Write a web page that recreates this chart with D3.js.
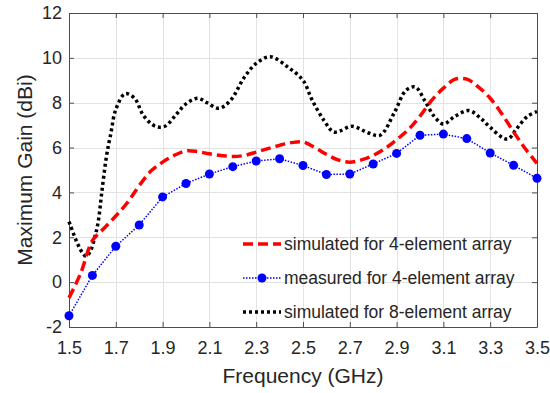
<!DOCTYPE html>
<html lang="en">
<head>
  <meta charset="UTF-8">
  <title>Maximum Gain vs Frequency</title>
  <script src="https://d3js.org/d3.v7.min.js"></script>
  <style>
    body { margin: 0; background: #fff; }
    svg { display: block; }
    text { font-family: "Liberation Sans", Arial, sans-serif; fill: #262626; }
  </style>
</head>
<body>
  <svg id="chart"></svg>

  <script>
    // data
    const xTicks = [1.5, 1.7, 1.9, 2.1, 2.3, 2.5, 2.7, 2.9, 3.1, 3.3, 3.5];
    const yTicks = [-2, 0, 2, 4, 6, 8, 10, 12];

    const simFreq4 = [1.5, 1.55, 1.6, 1.65, 1.7, 1.75, 1.8, 1.85, 1.9, 1.95, 2.0, 2.05, 2.1, 2.15, 2.2, 2.25,
      2.3, 2.35, 2.4, 2.45, 2.5, 2.55, 2.6, 2.65, 2.7, 2.75, 2.8, 2.85, 2.9, 2.95, 3.0, 3.05, 3.1, 3.15,
      3.2, 3.25, 3.3, 3.35, 3.4, 3.45, 3.5];
    const simGain4 = [-0.7, 0.4, 1.85, 2.4, 2.95, 3.55, 4.3, 4.95, 5.35, 5.65, 5.85, 5.82, 5.72, 5.65, 5.6, 5.65,
      5.8, 5.95, 6.1, 6.22, 6.25, 6.0, 5.7, 5.45, 5.35, 5.45, 5.65, 5.95, 6.35, 6.8, 7.4, 8.1, 8.65, 9.05,
      9.05, 8.7, 8.2, 7.5, 6.7, 5.95, 5.3];

    const measFreq4 = [1.5, 1.6, 1.7, 1.8, 1.9, 2.0, 2.1, 2.2, 2.3, 2.4, 2.5, 2.6, 2.7, 2.8, 2.9, 3.0, 3.1,
      3.2, 3.3, 3.4, 3.5];
    const measGain4 = [-1.5, 0.3, 1.6, 2.55, 3.8, 4.4, 4.82, 5.15, 5.4, 5.5, 5.2, 4.8, 4.82, 5.27, 5.74, 6.55, 6.6,
      6.4, 5.76, 5.21, 4.63];

    const simFreq8 = [1.5, 1.535, 1.555, 1.573, 1.59, 1.61, 1.625, 1.64, 1.66, 1.68, 1.70, 1.74, 1.78, 1.82, 1.87,
      1.91, 1.96, 2.0, 2.05, 2.09, 2.14, 2.19, 2.25, 2.30, 2.36, 2.44, 2.5, 2.54, 2.59, 2.63, 2.66, 2.71,
      2.78, 2.83, 2.89, 2.94, 2.98, 3.02, 3.06, 3.1, 3.15, 3.21, 3.26, 3.3, 3.36, 3.38, 3.41, 3.46, 3.5];
    const simGain8 = [2.7, 1.75, 1.35, 1.15, 1.35, 2.0, 2.7, 4.0, 5.6, 6.7, 7.7, 8.4, 8.2, 7.4, 6.95,
      6.95, 7.5, 7.95, 8.2, 8.0, 7.75, 8.1, 9.15, 9.75, 10.05, 9.55, 9.0, 8.1, 7.2, 6.7, 6.75, 6.95,
      6.65, 6.55, 7.55, 8.55, 8.7, 8.1, 7.4, 7.05, 7.4, 7.65, 7.3, 6.9, 6.4, 6.4, 6.8, 7.4, 7.6];

    const seriesNames = ["simulated for 4-element array", "measured for 4-element array", "simulated for 8-element array"];

    const width = 550, height = 393;
    const margin = { top: 13, right: 13, bottom: 66, left: 69 };
    const svg = d3.select("#chart").attr("width", width).attr("height", height);

    const x = d3.scaleLinear().domain([1.5, 3.5]).range([margin.left, width - margin.right]);
    const y = d3.scaleLinear().domain([-2, 12]).range([height - margin.bottom, margin.top]);

    // grid
    const grid = svg.append("g").attr("stroke", "#e3e3e3").attr("stroke-width", 1);
    grid.selectAll(".gx").data(xTicks.slice(1, -1)).enter().append("line")
      .attr("x1", d => Math.round(x(d)) + 0.5).attr("x2", d => Math.round(x(d)) + 0.5)
      .attr("y1", y(12)).attr("y2", y(-2));
    grid.selectAll(".gy").data(yTicks.slice(1, -1)).enter().append("line")
      .attr("y1", d => Math.round(y(d)) + 0.5).attr("y2", d => Math.round(y(d)) + 0.5)
      .attr("x1", x(1.5)).attr("x2", x(3.5));

    // axes (MATLAB style: ticks inside, box on)
    const tickLen = 5;
    const xAxis = d3.axisBottom(x).tickValues(xTicks).tickFormat(d3.format(".1f")).tickSizeInner(-tickLen).tickSizeOuter(0).tickPadding(14);
    const yAxis = d3.axisLeft(y).tickValues(yTicks).tickFormat(d => String(d)).tickSizeInner(-tickLen).tickSizeOuter(0).tickPadding(7);
    const xTop = d3.axisTop(x).tickValues(xTicks).tickFormat("").tickSizeInner(-tickLen).tickSizeOuter(0);
    const yRight = d3.axisRight(y).tickValues(yTicks).tickFormat("").tickSizeInner(-tickLen).tickSizeOuter(0);

    function styleAxis(g) {
      g.selectAll("path, line").attr("stroke", "#4d4d4d");
      g.selectAll("text").attr("fill", "#303030").attr("font-size", 18)
        .attr("font-family", "'Liberation Sans', Arial, sans-serif");
    }

    svg.append("g").attr("transform", `translate(0,${y(-2)})`).call(xAxis).call(styleAxis);
    svg.append("g").attr("transform", `translate(${x(1.5)},0)`).call(yAxis).call(styleAxis);
    svg.append("g").attr("transform", `translate(0,${y(12)})`).call(xTop).call(styleAxis);
    svg.append("g").attr("transform", `translate(${x(3.5)},0)`).call(yRight).call(styleAxis);

    // axis labels
    svg.append("text")
      .attr("x", (x(1.5) + x(3.5)) / 2).attr("y", 383)
      .attr("text-anchor", "middle").attr("font-size", 21)
      .text("Frequency (GHz)");
    svg.append("text")
      .attr("transform", `translate(32,${(y(-2) + y(12)) / 2}) rotate(-90)`)
      .attr("text-anchor", "middle").attr("font-size", 21)
      .text("Maximum Gain (dBi)");

    // lines
    const line = d3.line().x(d => x(d[0])).y(d => y(d[1])).curve(d3.curveCatmullRom.alpha(0.5));
    const plot = svg.append("g");

    plot.append("path")
      .datum(d3.zip(simFreq8, simGain8))
      .attr("fill", "none").attr("stroke", "#000").attr("stroke-width", 3.5)
      .attr("stroke-dasharray", "3,3").attr("d", line);

    plot.append("path")
      .datum(d3.zip(simFreq4, simGain4))
      .attr("fill", "none").attr("stroke", "#ff0000").attr("stroke-width", 3.5)
      .attr("stroke-dasharray", "10,5").attr("d", line);

    const measData = d3.zip(measFreq4, measGain4);
    plot.append("path")
      .datum(measData)
      .attr("fill", "none").attr("stroke", "#0000ff").attr("stroke-width", 1.5)
      .attr("stroke-dasharray", "1.5,1.5")
      .attr("d", d3.line().x(d => x(d[0])).y(d => y(d[1])));
    plot.selectAll(".m").data(measData).enter().append("circle")
      .attr("cx", d => x(d[0])).attr("cy", d => y(d[1])).attr("r", 4.5)
      .attr("fill", "#0000ff");

    // legend
    const legendRows = [
      { name: seriesNames[0], color: "#ff0000", dash: "10,5", width: 3.5, marker: false, y: 244 },
      { name: seriesNames[1], color: "#0000ff", dash: "1.5,1.5", width: 1.5, marker: true, y: 278 },
      { name: seriesNames[2], color: "#000", dash: "3,3", width: 3.5, marker: false, y: 312 }
    ];
    const lx0 = 243, lx1 = 281;
    const legend = svg.append("g");
    legendRows.forEach(r => {
      legend.append("line").attr("x1", lx0).attr("x2", lx1).attr("y1", r.y).attr("y2", r.y)
        .attr("stroke", r.color).attr("stroke-width", r.width).attr("stroke-dasharray", r.dash);
      if (r.marker) {
        legend.append("circle").attr("cx", (lx0 + lx1) / 2).attr("cy", r.y).attr("r", 4.5).attr("fill", r.color);
      }
      legend.append("text").attr("x", 284).attr("y", r.y + 6).attr("font-size", 17.5).text(r.name);
    });
  </script>
</body>
</html>
